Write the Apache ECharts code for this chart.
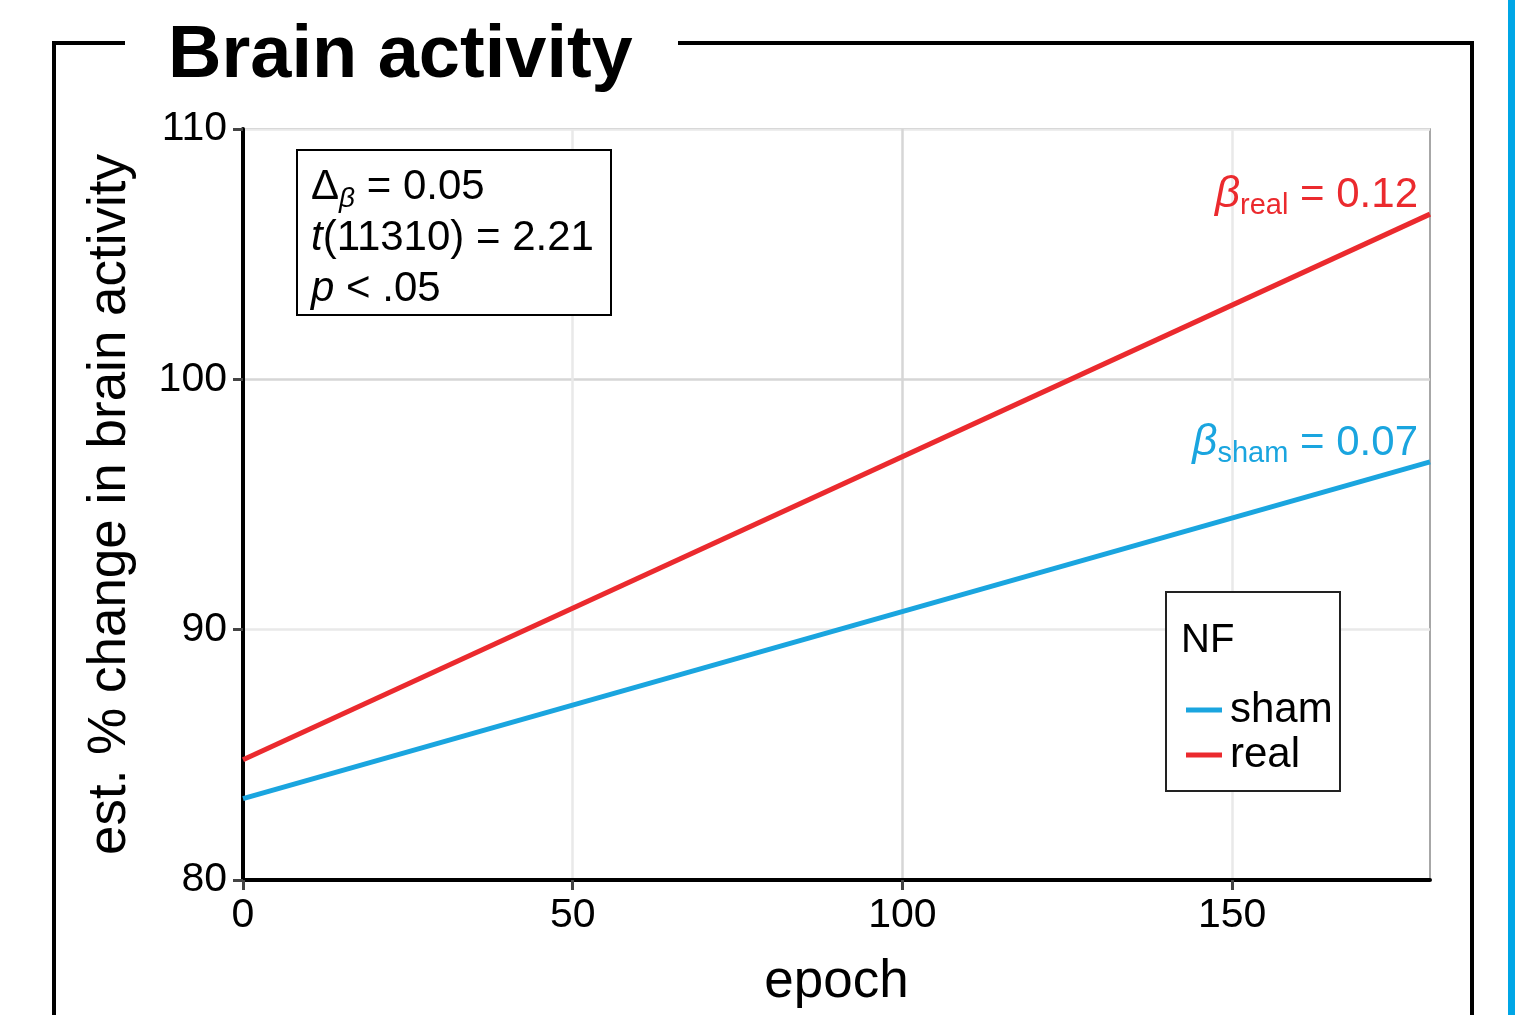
<!DOCTYPE html>
<html>
<head>
<meta charset="utf-8">
<script src="https://cdn.jsdelivr.net/npm/echarts@6/dist/echarts.min.js"></script>
<style>
  html, body { margin: 0; padding: 0; background: #fff; }
  #chart { width: 1515px; height: 1015px; }
</style>
</head>
<body>
<div id="chart"></div>
<script>
// data
const epochs = [0, 180]
const realValues = [84.8, 106.6]
const shamValues = [83.25, 96.7]
const xTickLabels = [0, 50, 100, 150]
const yTickLabels = [80, 90, 100, 110]

const FONT = '"Liberation Sans", Arial, Helvetica, sans-serif'
const RED = '#eb2a2e'
const BLUE = '#1aa5df'

const chart = echarts.init(document.getElementById('chart'), null, { renderer: 'canvas' })

// 主刻度 / 次刻度 网格颜色交替
const GRID_COLORS = ['#d6d6d6', '#e9e9e9']

chart.setOption({
  backgroundColor: '#ffffff',
  animation: false,
  textStyle: { fontFamily: FONT },
  grid: {
    left: 243, right: 85, top: 129, bottom: 135,
    show: true,
    borderColor: '#8a8a8a',
    borderWidth: 1.5,
    containLabel: false,
    outerBoundsMode: 'none'
  },
  xAxis: {
    type: 'value',
    min: 0, max: 180, interval: 25,
    name: 'epoch',
    nameLocation: 'middle',
    nameGap: 76,
    nameTextStyle: { fontSize: 53, color: '#000', fontFamily: FONT },
    axisLine: { show: true, lineStyle: { color: '#000', width: 4 } },
    axisTick: { show: true, length: 10, customValues: xTickLabels, lineStyle: { color: '#444', width: 3 } },
    axisLabel: { customValues: xTickLabels, fontSize: 41, color: '#000', margin: 15, fontFamily: FONT },
    splitLine: { show: true, lineStyle: { color: GRID_COLORS, width: 2.5 } }
  },
  yAxis: {
    type: 'value',
    min: 80, max: 110, interval: 5,
    name: 'est. % change in brain activity',
    nameLocation: 'middle',
    nameRotate: 90,
    nameGap: 106,
    nameTextStyle: { fontSize: 53, color: '#000', fontFamily: FONT },
    axisLine: { show: true, lineStyle: { color: '#000', width: 4 } },
    axisTick: { show: true, length: 10, customValues: yTickLabels, lineStyle: { color: '#444', width: 3 } },
    axisLabel: { customValues: yTickLabels, fontSize: 41, color: '#000', margin: 16, fontFamily: FONT },
    splitLine: { show: true, lineStyle: { color: GRID_COLORS, width: 2.5 } }
  },
  legend: {
    orient: 'vertical',
    left: 1181,
    top: 684,
    itemWidth: 36,
    itemHeight: 5,
    itemGap: 3,
    icon: 'rect',
    z: 12,
    textStyle: { fontSize: 42, color: '#000', fontFamily: FONT, padding: [0, 0, 0, 3] },
    data: ['sham', 'real']
  },
  series: [
    {
      name: 'sham', type: 'line', showSymbol: false, symbol: 'none',
      data: epochs.map((e, i) => [e, shamValues[i]]),
      lineStyle: { color: BLUE, width: 5 }, itemStyle: { color: BLUE }, z: 3
    },
    {
      name: 'real', type: 'line', showSymbol: false, symbol: 'none',
      data: epochs.map((e, i) => [e, realValues[i]]),
      lineStyle: { color: RED, width: 5 }, itemStyle: { color: RED }, z: 3
    }
  ],
  graphic: [
    // 外框
    { type: 'polyline', shape: { points: [[125, 43], [54, 43], [54, 1030]] }, style: { stroke: '#000', lineWidth: 4, fill: null } },
    { type: 'polyline', shape: { points: [[678, 43], [1472, 43], [1472, 1030]] }, style: { stroke: '#000', lineWidth: 4, fill: null } },
    { type: 'rect', shape: { x: 1508, y: 0, width: 8, height: 1015 }, style: { fill: '#00a6e6' } },
    {
      type: 'text', left: 168, top: 20,
      style: { text: 'Brain activity', font: 'bold 74px ' + FONT, fill: '#000' }
    },
    // 统计量框
    { type: 'rect', shape: { x: 297, y: 150, width: 314, height: 165 }, style: { stroke: '#000', lineWidth: 2, fill: '#fff' }, z: 10 },
    {
      type: 'text', left: 311, top: 166, z: 11,
      style: {
        text: '{n|Δ}{sub|β}{n| = 0.05}\n{i|t}{n|(11310) = 2.21}\n{i|p}{n| < .05}',
        rich: {
          n: { fontSize: 42, fontFamily: FONT, fill: '#000', lineHeight: 51 },
          i: { fontSize: 42, fontFamily: FONT, fontStyle: 'italic', fill: '#000', lineHeight: 51 },
          sub: { fontSize: 28, fontFamily: FONT, fontStyle: 'italic', fill: '#000', padding: [24, 0, 0, 0] }
        }
      }
    },
    // 斜率标注
    {
      type: 'text', right: 1515 - 1418, top: 173, z: 11,
      style: {
        text: '{b|β}{sub|real}{n| = 0.12}',
        rich: {
          b: { fontSize: 44, fontFamily: FONT, fontStyle: 'italic', fill: RED },
          n: { fontSize: 42, fontFamily: FONT, fill: RED },
          sub: { fontSize: 29, fontFamily: FONT, fill: RED, padding: [22, 0, 0, 0] }
        }
      }
    },
    {
      type: 'text', right: 1515 - 1418, top: 421, z: 11,
      style: {
        text: '{b|β}{sub|sham}{n| = 0.07}',
        rich: {
          b: { fontSize: 44, fontFamily: FONT, fontStyle: 'italic', fill: BLUE },
          n: { fontSize: 42, fontFamily: FONT, fill: BLUE },
          sub: { fontSize: 29, fontFamily: FONT, fill: BLUE, padding: [22, 0, 0, 0] }
        }
      }
    },
    // 图例框
    { type: 'rect', shape: { x: 1166, y: 592, width: 174, height: 199 }, style: { stroke: '#222', lineWidth: 2, fill: '#fff' }, z: 10 },
    { type: 'text', left: 1181, top: 621, z: 11, style: { text: 'NF', font: '40px ' + FONT, fill: '#000' } }
  ]
})
</script>
</body>
</html>
